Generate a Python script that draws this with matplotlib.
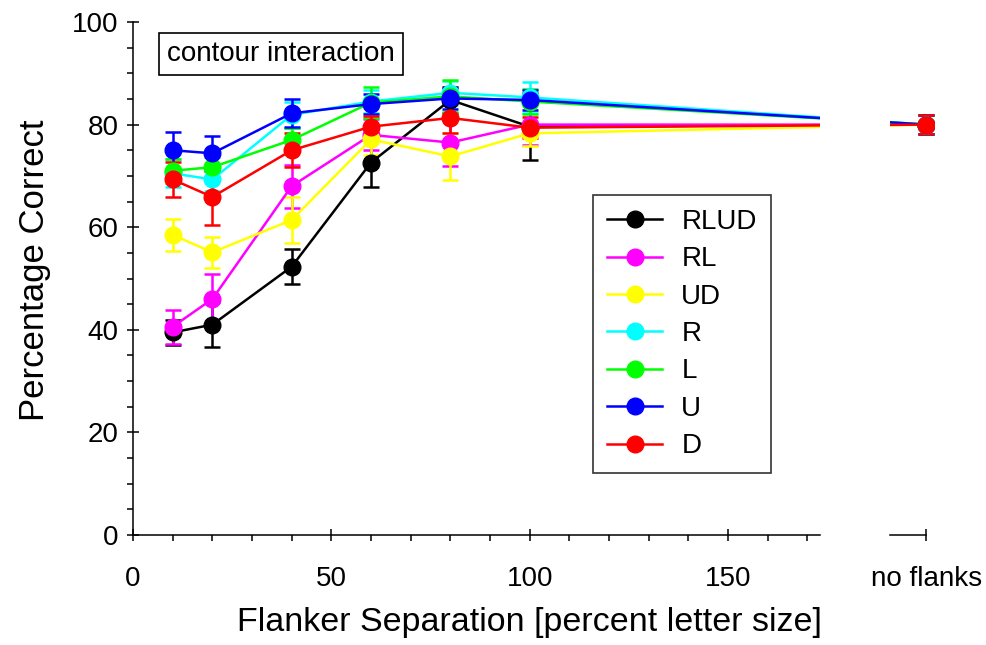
import matplotlib
matplotlib.use("Agg")
import matplotlib.pyplot as plt
from matplotlib.lines import Line2D
from matplotlib.ticker import MultipleLocator

plt.rcParams['font.family'] = ['Liberation Sans', 'DejaVu Sans']

# separations in percent letter size; 200 stands for the "no flanks" condition
sep = [10, 20, 40, 60, 80, 100, 200]

names = ['RLUD', 'RL', 'UD', 'R', 'L', 'U', 'D']
colors = ['#000000', '#ff00ff', '#ffff00', '#00ffff', '#00ff00', '#0000ff', '#ff0000']

rlud = [39.5, 41.0, 52.3, 72.6, 84.8, 79.6, 80.0]
rlud_err = [2.5, 4.4, 3.4, 4.7, 2.5, 6.5, 1.8]
rl = [40.6, 46.0, 68.0, 78.0, 76.5, 80.0, 80.0]
rl_err = [3.3, 4.8, 4.2, 3.0, 4.5, 4.0, 1.8]
ud = [58.5, 55.1, 61.4, 77.1, 73.8, 78.3, 80.0]
ud_err = [3.1, 3.0, 4.5, 3.0, 4.6, 2.5, 1.8]
r = [70.5, 69.3, 81.9, 84.5, 86.2, 85.3, 80.0]
r_err = [2.7, 2.2, 2.5, 2.3, 2.3, 3.0, 1.8]
l = [71.0, 71.7, 77.0, 84.3, 85.5, 84.5, 80.0]
l_err = [2.3, 2.0, 2.3, 3.1, 3.1, 2.5, 1.8]
u = [75.0, 74.4, 82.2, 84.0, 85.1, 84.8, 80.0]
u_err = [3.6, 3.4, 2.7, 2.0, 2.0, 2.0, 1.8]
d = [69.3, 65.9, 75.0, 79.6, 81.3, 79.4, 80.0]
d_err = [3.5, 5.5, 3.3, 2.0, 3.0, 2.0, 1.8]

series = [rlud, rl, ud, r, l, u, d]
errors = [rlud_err, rl_err, ud_err, r_err, l_err, u_err, d_err]

W, H = 986, 645
fig = plt.figure(figsize=(W / 100, H / 100), dpi=100)

# main axis (0..173) and the little "no flanks" stub on the right
ax = fig.add_axes([133 / W, 1 - 535 / H, 687 / W, 513 / H])
ax2 = fig.add_axes([890 / W, 1 - 535 / H, 44.4 / W, 513 / H])

for a in (ax, ax2):
    for ys, es, c in zip(series, errors, colors):
        a.errorbar(sep, ys, yerr=es, color=c, lw=1.8, marker='o', ms=12,
                   mec=c, mfc=c, capsize=6, capthick=1.8, elinewidth=1.8)
    a.set_ylim(0, 100)

ax.set_xlim(0, 173.2)
ax2.set_xlim(190.8, 202)

for s in ['top', 'right']:
    ax.spines[s].set_visible(False)
for s in ['top', 'right', 'left']:
    ax2.spines[s].set_visible(False)
ax2.spines['bottom'].set_bounds(190.8, 200)
for a in (ax, ax2):
    for s in a.spines.values():
        s.set_linewidth(1.1)

ax.xaxis.set_major_locator(MultipleLocator(50))
ax.xaxis.set_minor_locator(MultipleLocator(10))
ax.yaxis.set_major_locator(MultipleLocator(20))
ax.yaxis.set_minor_locator(MultipleLocator(5))
ax.tick_params(axis='x', which='major', direction='inout', length=9, width=1.1,
               labelsize=20, pad=18)
ax.tick_params(axis='x', which='minor', direction='out', length=4, width=1.1)
ax.tick_params(axis='y', which='major', direction='inout', length=9, width=1.1,
               labelsize=20, pad=6)
ax.tick_params(axis='y', which='minor', direction='out', length=4, width=1.1)

ax2.set_xticks([200])
ax2.set_xticklabels(['no flanks'])
ax2.set_yticks([])
ax2.tick_params(axis='x', which='major', direction='inout', length=9, width=1.1,
                labelsize=20, pad=18)

fig.text(529 / W, 1 - 622 / H, 'Flanker Separation [percent letter size]',
         ha='center', va='center', fontsize=24.5)
fig.text(35 / W, 1 - 270 / H, 'Percentage Correct', rotation=90,
         ha='center', va='center', fontsize=25)

ax.text(37.3, 93.8, 'contour interaction', ha='center', va='center', fontsize=20,
        bbox=dict(boxstyle='square,pad=0.28', fc='white', ec='black', lw=1.2))

handles = [Line2D([], [], color=c, lw=1.8, marker='o', ms=12, mfc=c, mec=c)
           for c in colors]
leg = ax.legend(handles, names, loc='upper left',
                bbox_to_anchor=(593 / W, 1 - 195 / H),
                bbox_transform=fig.transFigure, fontsize=20, frameon=True,
                fancybox=False, borderaxespad=0, handlelength=2.0,
                handletextpad=0.68, labelspacing=0.41, borderpad=0.5)
leg.get_frame().set_edgecolor('black')
leg.get_frame().set_linewidth(1.2)

fig.savefig('out.png', dpi=100)
